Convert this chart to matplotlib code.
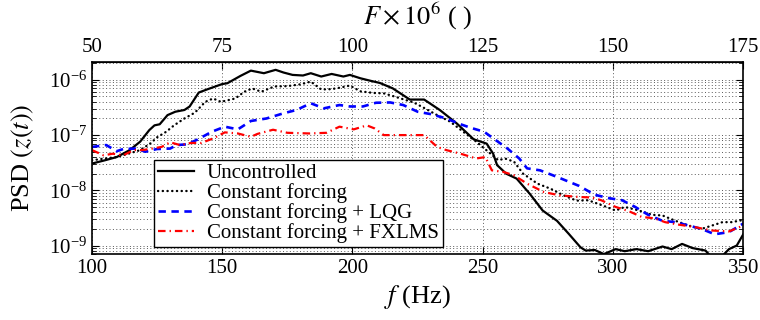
import numpy as np
import matplotlib
matplotlib.use("Agg")
import matplotlib.pyplot as plt
from matplotlib.ticker import FixedLocator, LogLocator, NullFormatter

plt.rcParams['font.family'] = ['Liberation Serif', 'DejaVu Serif']
plt.rcParams['mathtext.fontset'] = 'stix'

# Uncontrolled
f_unc = [100, 105, 109.5, 114.5, 118.5, 122, 124, 126, 129, 132, 135.5, 137.5, 141, 144.5,
         150, 152, 157, 161, 166, 170.5, 173.5, 177, 181, 184, 188, 192, 196.5, 199, 203,
         207, 210.5, 215.5, 222, 227.5, 233.5, 240, 246.5, 251.5, 254, 255.5, 259, 263,
         268, 273, 278.5, 283, 287.5, 289.5, 293, 296.5, 301, 304.5, 309, 313.5, 319,
         322.5, 326.5, 330.5, 335.5, 338, 342, 344.5, 347.5, 350]
psd_unc = [3.05e-8, 3.5e-8, 4.0e-8, 5.35e-8, 7.6e-8, 1.23e-7, 1.5e-7, 1.57e-7, 2.3e-7,
           2.65e-7, 2.85e-7, 3.3e-7, 5.9e-7, 6.8e-7, 8.4e-7, 8.7e-7, 1.18e-6, 1.47e-6,
           1.32e-6, 1.52e-6, 1.36e-6, 1.23e-6, 1.2e-6, 1.32e-6, 1.15e-6, 1.28e-6, 1.15e-6,
           1.23e-6, 1.07e-6, 0.96e-6, 0.88e-6, 0.7e-6, 4.4e-7, 4.4e-7, 2.85e-7, 1.63e-7,
           8.4e-8, 7.0e-8, 4.6e-8, 2.86e-8, 2.0e-8, 1.63e-8, 8.7e-9, 4.3e-9, 2.8e-9,
           1.63e-9, 9.3e-10, 8.1e-10, 8.3e-10, 7.0e-10, 8.6e-10, 7.9e-10, 8.6e-10, 7.9e-10,
           9.6e-10, 8.6e-10, 1.07e-9, 9.0e-10, 8.1e-10, 6.0e-10, 6.5e-10, 8.6e-10, 1.0e-9,
           1.6e-9]

# Constant forcing
f_cf = [100, 105, 109.5, 114, 118.5, 122.5, 125, 128.5, 131.5, 135.5, 139.5, 143.5, 146.5,
        149.5, 155, 158.5, 161.5, 165, 170, 175, 180, 184, 188, 192, 195, 199, 203, 208,
        212, 215.5, 219.5, 223.5, 227.5, 232.5, 237.5, 242.5, 247.5, 253, 256, 258.5, 262,
        265.5, 271, 276, 281, 286, 290.5, 297, 301, 304.5, 310, 315, 319, 324, 329, 334,
        338, 342, 345.5, 350]
psd_cf = [3.5e-8, 3.77e-8, 4.0e-8, 4.6e-8, 5.35e-8, 7.1e-8, 9.1e-8, 1.15e-7, 1.5e-7, 2.0e-7,
          2.55e-7, 4.0e-7, 4.6e-7, 4.0e-7, 4.6e-7, 6.1e-7, 7.0e-7, 6.1e-7, 7.6e-7, 7.7e-7,
          8.3e-7, 9.3e-7, 6.7e-7, 6.8e-7, 7.2e-7, 7.9e-7, 6.2e-7, 5.8e-7, 5.7e-7, 5.1e-7,
          4.45e-7, 3.9e-7, 3.1e-7, 2.3e-7, 1.75e-7, 1.15e-7, 7.6e-8, 4.6e-8, 3.5e-8, 3.77e-8,
          3.3e-8, 2.0e-8, 1.32e-8, 1.07e-8, 8.1e-9, 6.5e-9, 6.6e-9, 5.1e-9, 4.3e-9, 5.0e-9,
          4.3e-9, 3.6e-9, 3.5e-9, 2.8e-9, 2.3e-9, 2.0e-9, 2.3e-9, 2.65e-9, 2.65e-9, 2.9e-9]

# Constant forcing + LQG
f_lqg = [100, 105.5, 109.5, 112, 117, 120.5, 125, 130, 132.5, 136.5, 140.5, 146, 151, 156,
         161, 167, 173.5, 178.5, 184, 189, 195, 199, 204, 209, 214.5, 219.5, 225, 230,
         236, 241, 245.5, 250.5, 255, 259.5, 264, 267, 272, 278.5, 287, 293, 298.5, 303.5,
         308.5, 313.5, 319, 324, 329, 334, 339, 344.5, 350]
psd_lqg = [6.1e-8, 6.6e-8, 5.1e-8, 5.6e-8, 5.7e-8, 5.0e-8, 5.6e-8, 5.7e-8, 6.6e-8, 6.8e-8,
           8.3e-8, 1.15e-7, 1.42e-7, 1.27e-7, 1.8e-7, 2.0e-7, 2.48e-7, 2.85e-7, 3.77e-7,
           3.05e-7, 3.5e-7, 3.3e-7, 3.3e-7, 3.85e-7, 3.9e-7, 3.5e-7, 2.65e-7, 2.4e-7,
           2.0e-7, 1.6e-7, 1.35e-7, 1.15e-7, 8.1e-8, 5.7e-8, 3.77e-8, 2.5e-8, 2.3e-8,
           1.75e-8, 1.2e-8, 8.3e-9, 7.2e-9, 6.6e-9, 5.0e-9, 3.6e-9, 2.8e-9, 2.65e-9, 2.3e-9,
           2.0e-9, 1.6e-9, 1.75e-9, 2.5e-9]

# Constant forcing + FXLMS
f_fx = [100, 104.5, 108, 112, 116, 119.5, 123, 126.7, 130, 133.8, 138, 142, 146.5, 151,
        156, 161, 163.5, 169.5, 175, 183.5, 190, 195, 200.5, 205.5, 208.5, 212, 218,
        224.5, 227.5, 232.5, 236, 241.5, 247.5, 251, 253.5, 258, 262, 267, 273.5, 279.5,
        286.5, 292, 295.5, 301, 306, 311, 316, 320, 325, 331.5, 338, 344.5, 350]
psd_fx = [5.35e-8, 4.3e-8, 4.6e-8, 4.3e-8, 5.35e-8, 5.35e-8, 5.7e-8, 6.1e-8, 7.4e-8, 6.6e-8,
          7.2e-8, 7.2e-8, 8.7e-8, 1.12e-7, 1.07e-7, 9.3e-8, 1.05e-7, 1.25e-7, 1.1e-7, 1.07e-7,
          1.1e-7, 1.42e-7, 1.27e-7, 1.5e-7, 1.32e-7, 1.0e-7, 1.0e-7, 1.0e-7, 1.0e-7, 6.1e-8,
          5.35e-8, 4.6e-8, 3.77e-8, 4.0e-8, 2.3e-8, 2.15e-8, 1.87e-8, 1.32e-8, 9.3e-9,
          8.1e-9, 7.6e-9, 7.4e-9, 6.6e-9, 5.0e-9, 4.2e-9, 3.3e-9, 3.1e-9, 2.65e-9, 2.4e-9,
          2.15e-9, 1.87e-9, 1.8e-9, 2.3e-9]

labels = ['Uncontrolled', 'Constant forcing', 'Constant forcing + LQG',
          'Constant forcing + FXLMS']
top_ticks = [50, 75, 100, 125, 150, 175]

fig = plt.figure(figsize=(7.6, 3.2), dpi=100)
ax = fig.add_axes([0.121, 0.206, 0.857, 0.6])

ax.plot(f_unc, psd_unc, color='black', lw=1.6, label=labels[0])
ax.plot(f_cf, psd_cf, color='black', lw=1.7, linestyle=(0, (0.1, 1.9)),
        dash_capstyle='round', label=labels[1])
ax.plot(f_lqg, psd_lqg, color='#0000ff', lw=1.9, linestyle=(0, (2.8, 2.1)), label=labels[2])
ax.plot(f_fx, psd_fx, color='#ff0000', lw=1.6, linestyle=(0, (3.4, 1.8, 0.6, 1.8)),
        label=labels[3])

ax.set_yscale('log')
ax.set_xlim(100, 350)
ax.set_ylim(7e-10, 2.1e-6)
ax.set_xticks([100, 150, 200, 250, 300, 350])
ax.yaxis.set_major_locator(LogLocator(base=10, numticks=10))
ax.yaxis.set_minor_locator(LogLocator(base=10, subs=np.arange(2, 10), numticks=20))
ax.yaxis.set_minor_formatter(NullFormatter())

ax.grid(True, axis='y', which='both', color='0.35', lw=0.7, linestyle=(0, (1, 2.5)))
ax.grid(True, axis='x', which='major', color='0.35', lw=0.7, linestyle=(0, (1, 2.5)))

ax.tick_params(which='both', direction='in', top=False, right=True, labelsize=15)
ax.tick_params(which='major', length=5, width=0.8)
ax.tick_params(which='minor', length=3, width=0.6)

for s in ax.spines.values():
    s.set_linewidth(1.2)

ax.set_xlabel(r'$f$ (Hz)', fontsize=19, labelpad=4)
ax.set_ylabel(r'PSD $(z(t))$', fontsize=19, labelpad=9)

sec = ax.secondary_xaxis('top', functions=(lambda x: x / 2.0, lambda x: x * 2.0))
sec.xaxis.set_major_locator(FixedLocator(top_ticks))
sec.tick_params(direction='in', length=5, width=0.8, labelsize=15)
sec.set_xlabel(r'$F \times 10^{6}$ ( )', fontsize=19, labelpad=10)

leg = ax.legend(loc='lower left', bbox_to_anchor=(0.095, 0.036), fontsize=15,
                frameon=True, fancybox=False, framealpha=1, edgecolor='black',
                borderpad=0.2, labelspacing=0.0, handlelength=1.75, handletextpad=0.6,
                borderaxespad=0)
leg.get_frame().set_linewidth(1.0)

plt.savefig('out.png', dpi=100)
